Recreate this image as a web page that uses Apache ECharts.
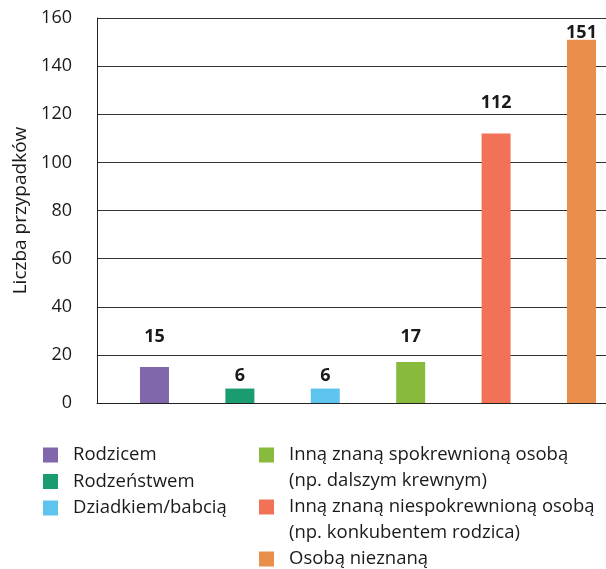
<!DOCTYPE html>
<html>
<head>
<meta charset="utf-8">
<script src="https://cdn.jsdelivr.net/npm/echarts@6/dist/echarts.min.js"></script>
<style>
  html, body { margin: 0; padding: 0; background: #fff; }
  #chart { width: 606px; height: 569px; }
</style>
</head>
<body>
<div id="chart"></div>
<script>
const categories = [
  'Rodzicem',
  'Rodzeństwem',
  'Dziadkiem/babcią',
  'Inną znaną spokrewnioną osobą\n(np. dalszym krewnym)',
  'Inną znaną niespokrewnioną osobą\n(np. konkubentem rodzica)',
  'Osobą nieznaną'
]
const values = [15, 6, 6, 17, 112, 151]
const colors = ['#8066aa', '#1a9b70', '#5ec4ee', '#88ba3e', '#f27257', '#e98e4b']
const yMin = 0
const yMax = 160
const yStep = 20

// value labels in the source sit at uneven heights above the bars
const labelGaps = [21, 4, 4, 16, 22, -2]

const font = '"Open Sans", "Noto Sans", sans-serif'
const textColor = '#1a1a1a'

const chart = echarts.init(document.getElementById('chart'))

const series = categories.map((name, i) => ({
  name,
  type: 'bar',
  stack: 'all',
  barWidth: 29,
  data: [[i, values[i]]],
  itemStyle: {color: colors[i]},
  label: {
    show: true,
    position: 'top',
    distance: labelGaps[i],
    color: textColor,
    fontFamily: font,
    fontSize: 18,
    fontWeight: 'bold',
    formatter: p => p.value[1]
  }
}))

const legendCommon = {
  orient: 'vertical',
  padding: 0,
  itemWidth: 15,
  itemHeight: 15,
  icon: 'rect',
  selectedMode: false,
  height: 300,
  textStyle: {
    fontFamily: font,
    fontSize: 18.5,
    color: textColor,
    padding: [0, 0, 0, 10]
  }
}

chart.setOption({
  animation: false,
  backgroundColor: '#fff',
  color: colors,
  grid: {left: 97, right: 0, top: 18, bottom: 166},
  xAxis: {
    type: 'value',
    min: -0.673,
    max: 5.287,
    axisLine: {show: true, onZero: false, lineStyle: {color: '#222', width: 1}},
    axisTick: {show: false},
    axisLabel: {show: false},
    splitLine: {show: false}
  },
  yAxis: {
    type: 'value',
    min: yMin,
    max: yMax,
    interval: yStep,
    name: 'Liczba przypadków',
    nameLocation: 'middle',
    nameGap: 66,
    nameTextStyle: {fontFamily: font, fontSize: 19, color: textColor},
    axisLine: {show: true, onZero: false, lineStyle: {color: '#222', width: 1}},
    axisTick: {show: false},
    axisLabel: {margin: 25, fontFamily: font, fontSize: 18, color: textColor},
    splitLine: {lineStyle: {color: '#333', width: 1}}
  },
  legend: [
    {
      ...legendCommon,
      left: 43,
      top: 441.75,
      itemGap: 0,
      textStyle: {...legendCommon.textStyle, lineHeight: 26.5},
      data: categories.slice(0, 3)
    },
    {
      // blank lines keep the square level with the first text line
      ...legendCommon,
      left: 259,
      top: 416,
      itemGap: -26,
      textStyle: {...legendCommon.textStyle, lineHeight: 26},
      formatter: name => name.includes('\n') ? '\n' + name : '\n' + name + '\n',
      data: categories.slice(3)
    }
  ],
  series
})
</script>
</body>
</html>
